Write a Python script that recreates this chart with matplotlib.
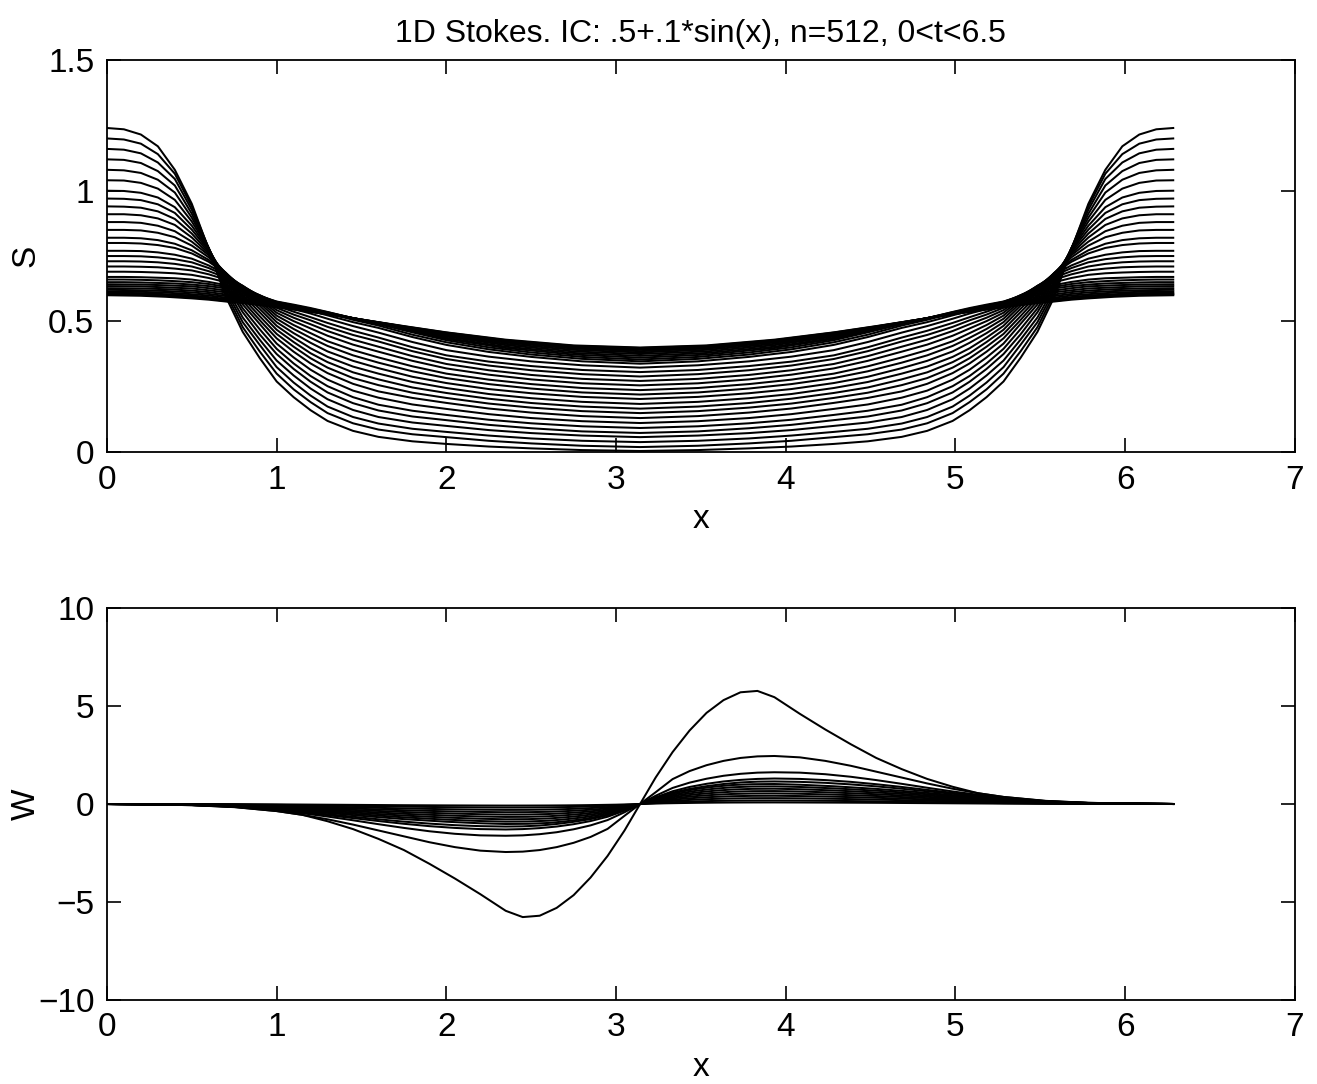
import numpy as np
import matplotlib.pyplot as plt

plt.rcParams['font.family'] = ['Liberation Sans', 'DejaVu Sans']

# S(x) read at these x (left half; the picture is symmetric about x = pi)
s_x = [0, 0.1, 0.2, 0.3, 0.4, 0.5, 0.6, 0.7, 0.8, 0.9, 1.0, 1.1, 1.2, 1.3, 1.45, 1.6,
       1.8, 2.0, 2.25, 2.5, 2.8, np.pi]

# well separated curves, latest time first
s_late = [
    [1.24, 1.235, 1.215, 1.17, 1.08, .95, .775, .595, .46, .36, .27, .21, .16, .119, .081, .058, .041, .031, .021, .014, .0075, .004],
    [1.20, 1.196, 1.18, 1.14, 1.065, .94, .778, .608, .478, .385, .30, .24, .191, .149, .11, .086, .068, .057, .043, .033, .024, .019],
    [1.16, 1.157, 1.143, 1.108, 1.045, .927, .78, .62, .497, .41, .325, .266, .216, .174, .134, .109, .089, .077, .063, .052, .043, .038],
    [1.12, 1.118, 1.106, 1.075, 1.02, .912, .78, .632, .515, .43, .35, .293, .243, .202, .161, .134, .113, .10, .084, .0725, .063, .057],
    [1.08, 1.078, 1.068, 1.042, .993, .897, .78, .643, .535, .45, .375, .318, .269, .228, .187, .159, .136, .122, .104, .091, .079, .073],
    [1.04, 1.039, 1.03, 1.008, .965, .882, .778, .653, .55, .47, .395, .339, .291, .252, .21, .181, .158, .142, .1235, .11, .0985, .092],
    [1.00, .999, .992, .974, .937, .866, .775, .662, .565, .49, .415, .362, .315, .277, .235, .208, .182, .165, .145, .13, .118, .111],
    [.97, .969, .964, .948, .915, .851, .771, .669, .578, .505, .435, .384, .339, .302, .261, .232, .207, .188, .1665, .151, .1375, .13],
    [.94, .939, .935, .921, .892, .836, .765, .675, .59, .52, .452, .403, .359, .323, .283, .256, .227, .207, .1855, .17, .1565, .149],
    [.91, .91, .906, .894, .869, .821, .759, .68, .60, .535, .468, .421, .378, .344, .305, .278, .247, .226, .204, .1876, .174, .166],
    [.88, .88, .877, .866, .845, .805, .753, .685, .61, .548, .483, .438, .397, .364, .327, .30, .268, .245, .222, .206, .192, .184],
    [.85, .85, .848, .839, .822, .79, .745, .686, .618, .56, .497, .455, .418, .385, .349, .321, .288, .264, .241, .225, .211, .203],
    [.82, .82, .818, .811, .797, .772, .735, .686, .625, .57, .51, .471, .437, .406, .37, .342, .309, .283, .26, .243, .228, .22],
    [.80, .80, .798, .792, .781, .76, .728, .684, .63, .578, .522, .486, .455, .424, .39, .362, .328, .30, .277, .26, .245, .237],
    [.77, .77, .769, .764, .755, .74, .714, .68, .634, .585, .533, .501, .473, .445, .411, .384, .349, .32, .296, .278, .263, .255],
    [.75, .75, .749, .745, .738, .726, .704, .675, .636, .59, .543, .514, .489, .463, .43, .403, .367, .337, .313, .295, .28, .272],
    [.73, .73, .729, .726, .72, .71, .692, .668, .636, .595, .552, .526, .504, .479, .448, .423, .386, .356, .331, .313, .298, .289],
    [.71, .71, .709, .707, .702, .695, .68, .66, .634, .598, .56, .537, .516, .494, .464, .438, .401, .37, .346, .329, .314, .306],
    [.69, .69, .689, .687, .684, .678, .666, .65, .63, .60, .567, .547, .53, .51, .482, .457, .421, .39, .365, .347, .332, .323],
    [.67, .67, .669, .667, .665, .66, .651, .639, .624, .60, .572, .556, .54, .523, .497, .475, .44, .41, .383, .364, .347, .338],
    [.66, .66, .659, .657, .654, .65, .643, .632, .619, .598, .575, .561, .547, .531, .506, .484, .449, .42, .393, .373, .3565, .347],
    [.65, .65, .649, .647, .645, .641, .635, .626, .614, .596, .576, .564, .551, .536, .512, .49, .458, .428, .4006, .381, .364, .354],
]

# early curves forming the dark band (coarser reading, they hardly move)
s_band_x = [0, 0.2, 0.35, 0.5, 0.6, 0.7, 0.8, 0.9, 1.0, 1.15, 1.3, 1.5, 1.75, 2.0, 2.35, 2.75, np.pi]
s_band = [
    [.642, .641, .638, .634, .627, .618, .607, .591, .573, .555, .535, .505, .468, .433, .398, .373, .361],
    [.635, .634, .630, .626, .619, .611, .601, .586, .569, .553, .533, .506, .470, .437, .403, .379, .368],
    [.627, .626, .623, .618, .612, .603, .594, .581, .566, .550, .532, .506, .473, .442, .409, .385, .375],
    [.621, .619, .616, .611, .605, .597, .588, .576, .563, .548, .531, .506, .475, .445, .414, .391, .381],
    [.615, .613, .610, .604, .599, .591, .583, .572, .561, .546, .530, .506, .477, .449, .419, .396, .386],
    [.610, .608, .604, .599, .593, .586, .579, .569, .558, .545, .529, .507, .479, .452, .422, .400, .391],
    [.606, .604, .600, .594, .589, .582, .575, .566, .557, .543, .528, .507, .480, .454, .425, .403, .394],
    [.603, .601, .597, .591, .586, .578, .572, .564, .555, .542, .527, .507, .481, .457, .428, .406, .398],
    [.600, .598, .594, .588, .583, .576, .570, .562, .554, .541, .527, .507, .482, .458, .430, .408, .400],
]

# W(x) read at these x (left half; the picture is odd about x = pi)
w_x = [0, 0.25, 0.5, 0.75, 1.0, 1.15, 1.3, 1.45, 1.6, 1.75, 1.9, 2.05, 2.2, 2.35, 2.45, 2.55,
       2.65, 2.75, 2.85, 2.95, 3.05, np.pi]

w_main = [
    [0, -.02, -.06, -.16, -.36, -.55, -.88, -1.28, -1.78, -2.35, -3.05, -3.8, -4.6, -5.45, -5.77, -5.7, -5.3, -4.65, -3.75, -2.65, -1.35, 0],
    [0, -.02, -.06, -.15, -.36, -.55, -.78, -1.05, -1.35, -1.65, -1.95, -2.2, -2.38, -2.45, -2.43, -2.35, -2.2, -1.98, -1.68, -1.27, -.6, 0],
    [0, -.02, -.05, -.14, -.32, -.47, -.64, -.83, -1.03, -1.22, -1.39, -1.52, -1.6, -1.62, -1.6, -1.54, -1.44, -1.29, -1.09, -.82, -.42, 0],
    [0, -.02, -.05, -.13, -.3, -.43, -.57, -.72, -.87, -1.01, -1.13, -1.22, -1.28, -1.3, -1.28, -1.23, -1.15, -1.03, -.87, -.65, -.34, 0],
    [0, -.02, -.05, -.13, -.28, -.4, -.52, -.65, -.78, -.9, -1.0, -1.08, -1.13, -1.15, -1.14, -1.1, -1.02, -.91, -.77, -.58, -.3, 0],
]

w_band_x = [0, 0.5, 0.75, 1.0, 1.25, 1.5, 1.75, 2.0, 2.2, 2.35, 2.48, 2.6, 2.7, 2.8, 2.9, 3.0, np.pi]
w_band = [
    [0, -.044, -.115, -.248, -.417, -.603, -.772, -.905, -.984, -1.02, -1.01, -.967, -.887, -.78, -.629, -.435, 0],
    [0, -.039, -.102, -.219, -.368, -.532, -.681, -.798, -.869, -.9, -.892, -.853, -.783, -.689, -.555, -.383, 0],
    [0, -.034, -.088, -.19, -.319, -.461, -.59, -.692, -.753, -.78, -.773, -.739, -.679, -.597, -.481, -.332, 0],
    [0, -.028, -.075, -.16, -.27, -.39, -.5, -.585, -.637, -.66, -.654, -.626, -.574, -.505, -.407, -.281, 0],
    [0, -.023, -.061, -.131, -.221, -.319, -.409, -.479, -.521, -.54, -.535, -.512, -.47, -.413, -.333, -.23, 0],
    [0, -.018, -.047, -.102, -.172, -.248, -.318, -.373, -.405, -.42, -.416, -.398, -.365, -.321, -.259, -.179, 0],
    [0, -.013, -.034, -.073, -.123, -.177, -.227, -.266, -.29, -.3, -.297, -.284, -.261, -.23, -.185, -.128, 0],
    [0, -.008, -.02, -.044, -.074, -.106, -.136, -.16, -.174, -.18, -.178, -.171, -.157, -.138, -.111, -.077, 0],
    [0, -.003, -.009, -.019, -.033, -.047, -.061, -.071, -.077, -.08, -.079, -.076, -.07, -.061, -.049, -.034, 0],
]


def full_x(xh):
    xh = np.asarray(xh, float)
    return np.concatenate([xh, 2 * np.pi - xh[-2::-1]])


def even(yh):
    yh = np.asarray(yh, float)
    return np.concatenate([yh, yh[-2::-1]])


def odd(yh):
    yh = np.asarray(yh, float)
    return np.concatenate([yh, -yh[-2::-1]])


def style(ax):
    ax.set_xlim(0, 7)
    ax.set_xticks(range(8))
    ax.tick_params(direction='in', top=True, right=True, length=10, width=1.2,
                   labelsize=24, pad=9)
    for sp in ax.spines.values():
        sp.set_linewidth(1.3)
    ax.set_xlabel('x', fontsize=24, labelpad=6)
    ax.yaxis.set_label_coords(-0.055, 0.5)


fig = plt.figure(figsize=(13.17, 10.84), dpi=100)
ax1 = fig.add_axes([0.0812, 0.583, 0.902, 0.3616])
ax2 = fig.add_axes([0.0812, 0.0775, 0.902, 0.3616])

for c in s_late:
    ax1.plot(full_x(s_x), even(c), color='black', lw=1.45)
for c in s_band:
    ax1.plot(full_x(s_band_x), even(c), color='black', lw=1.45)
style(ax1)
ax1.set_ylim(0, 1.5)
ax1.set_yticks([0, 0.5, 1, 1.5])
ax1.set_yticklabels(['0', '0.5', '1', '1.5'])
ax1.set_ylabel('S', fontsize=24)
ax1.set_title('1D Stokes. IC: .5+.1*sin(x), n=512, 0<t<6.5', fontsize=23, pad=13)

for c in w_main:
    ax2.plot(full_x(w_x), odd(c), color='black', lw=1.45)
for c in w_band:
    ax2.plot(full_x(w_band_x), odd(c), color='black', lw=1.45)
style(ax2)
ax2.set_ylim(-10, 10)
ax2.set_yticks([-10, -5, 0, 5, 10])
ax2.set_ylabel('W', fontsize=24)

fig.savefig('out.png', dpi=100)
